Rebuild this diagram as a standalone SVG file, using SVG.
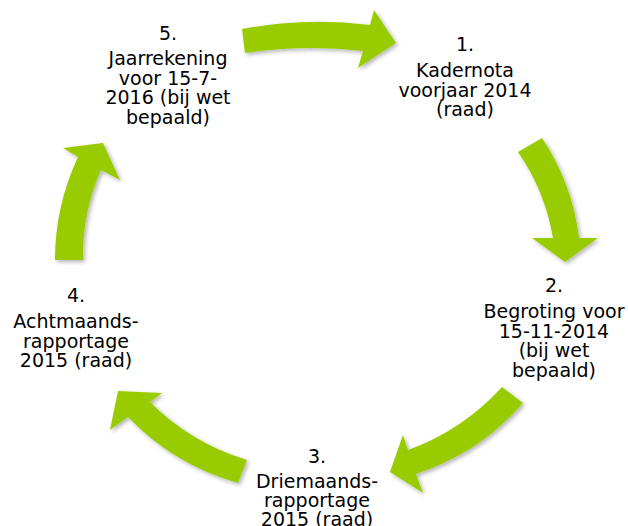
<svg xmlns="http://www.w3.org/2000/svg" width="628" height="526" viewBox="0 0 628 526">
<defs>
<style>
.lbl{font-family:"DejaVu Sans",Verdana,sans-serif;font-size:19px;fill:#000;text-anchor:middle}
.arr{fill:#99CC00;filter:url(#sh)}
</style>
<filter id="sh" x="-20%" y="-20%" width="140%" height="140%">
<feDropShadow dx="2" dy="2" stdDeviation="2" flood-color="#000" flood-opacity="0.3"/>
</filter>
</defs>
<rect width="628" height="526" fill="#fff"/>
<g id="connectors">
<path class="arr" d="M242,29 Q305,17 370,25 L374,10 L396,43 L358,68 L363,51 Q305,44 245,53 Z"/>
<path class="arr" d="M518,152 L542,138 Q572.5,183.6 579,238 L598,238 L565,262 L532,238 L553,238 Q545,191 518,152 Z"/>
<path class="arr" d="M502,387 L523,403 Q480,453 416,474 L423,493 L390,472 L403,435 L408,450 Q463,430 502,387 Z"/>
<path class="arr" d="M247,460 Q191,443 150,402 L162,393 L118,391 L110,430 L128,417 Q174,465 238,483 Z"/>
<path class="arr" d="M55,260 Q55,206 78,157 L63,148 L103,143 L120,180 L101,170 Q82,213 83,260 Z"/>
</g>
<g id="node1">
<text class="lbl" x="465" y="51">1.</text>
<text class="lbl" x="465"><tspan x="465" y="77">Kadernota</tspan><tspan x="465" y="96.5">voorjaar 2014</tspan><tspan x="465" y="116">(raad)</tspan></text>
</g>
<g id="node2">
<text class="lbl" x="554" y="292">2.</text>
<text class="lbl"><tspan x="554" y="318">Begroting voor</tspan><tspan x="554" y="337.5">15-11-2014</tspan><tspan x="554" y="357">(bij wet</tspan><tspan x="554" y="376.5">bepaald)</tspan></text>
</g>
<g id="node3">
<text class="lbl" x="317" y="463">3.</text>
<text class="lbl"><tspan x="317" y="488">Driemaands-</tspan><tspan x="317" y="507">rapportage</tspan><tspan x="317" y="526">2015 (raad)</tspan></text>
</g>
<g id="node4">
<text class="lbl" x="76" y="302">4.</text>
<text class="lbl"><tspan x="76" y="328">Achtmaands-</tspan><tspan x="76" y="347.5">rapportage</tspan><tspan x="76" y="367">2015 (raad)</tspan></text>
</g>
<g id="node5">
<text class="lbl" x="168" y="40">5.</text>
<text class="lbl"><tspan x="168" y="65">Jaarrekening</tspan><tspan x="168" y="84.5">voor 15-7-</tspan><tspan x="168" y="104">2016 (bij wet</tspan><tspan x="168" y="123.5">bepaald)</tspan></text>
</g>
</svg>
